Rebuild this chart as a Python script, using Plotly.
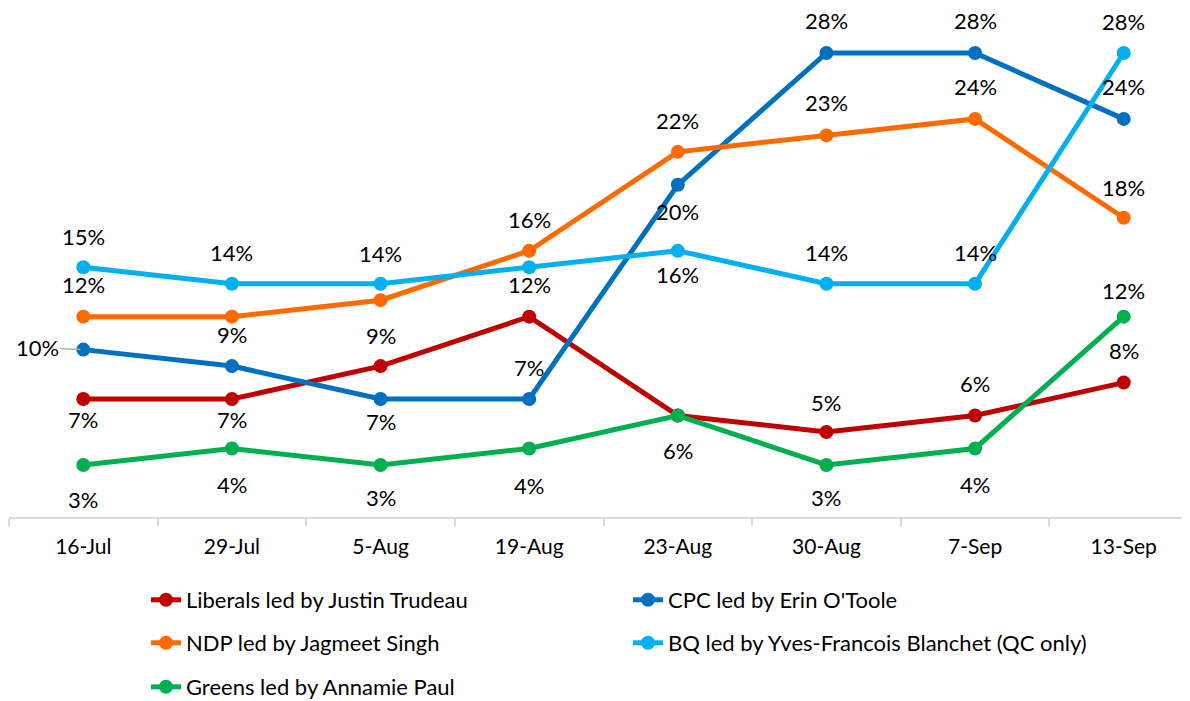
import plotly.graph_objects as go

categories = ["16-Jul", "29-Jul", "5-Aug", "19-Aug", "23-Aug", "30-Aug", "7-Sep", "13-Sep"]

liberals = [7, 7, 9, 12, 6, 5, 6, 8]
cpc = [10, 9, 7, 7, 20, 28, 28, 24]
ndp = [12, 12, 13, 16, 22, 23, 24, 18]
bq = [15, 14, 14, 15, 16, 14, 14, 28]
greens = [3, 4, 3, 4, 6, 3, 4, 12]

# data-label placement (pixel shift of label from its point; None = no label, "L" = left with leader)
liberals_lbl = [-20, -20, 31, 32, -35, 30, 32, 32]
cpc_lbl = ["L", 32, -22, 32, -27, 32, 32, 32]
ndp_lbl = [32, None, None, 31, 31, 33, 32, 30]
bq_lbl = [31, 31, 30, None, -24, 31, 31, 31]
greens_lbl = [-35, -36, -33, -37, None, -33, -36, 26]

names = [
    "Liberals led by Justin Trudeau",
    "CPC led by Erin O'Toole",
    "NDP led by Jagmeet Singh",
    "BQ led by Yves-Francois Blanchet (QC only)",
    "Greens led by Annamie Paul",
]
colors = ["#C00000", "#0070C0", "#FF6A00", "#00B0F0", "#00B050"]
series = [liberals, cpc, ndp, bq, greens]
labels = [liberals_lbl, cpc_lbl, ndp_lbl, bq_lbl, greens_lbl]

FONT = "Lato"
FS = 22
legend_ids = ["legend", "legend2", "legend3", "legend4", "legend5"]

fig = go.Figure()
for name, col, vals, lg in zip(names, colors, series, legend_ids):
    fig.add_trace(go.Scatter(
        x=categories, y=vals, name=name, mode="lines+markers",
        line=dict(color=col, width=5),
        marker=dict(color=col, size=14),
        cliponaxis=False, legend=lg,
    ))

annotations = []
for vals, lbl in zip(series, labels):
    for c, v, p in zip(categories, vals, lbl):
        f = dict(family=FONT, size=FS, color="#000")
        if p is None:
            continue
        if p == "L":
            annotations.append(dict(x=c, y=v, text=f"{v}%", showarrow=True, arrowhead=0,
                                    arrowwidth=1.3, arrowcolor="#A6A6A6", ax=-46, ay=-2,
                                    standoff=3, font=f))
        else:
            annotations.append(dict(x=c, y=v, text=f"{v}%", showarrow=False, yshift=p, font=f))

# legend grid positions (paper coords of plot area)
col_x = [0.1152, 0.5206]
row_y = [-0.163, -0.2475, -0.334]
legend_pos = [(col_x[0], row_y[0]), (col_x[1], row_y[0]),
              (col_x[0], row_y[1]), (col_x[1], row_y[1]),
              (col_x[0], row_y[2])]

layout_legends = {}
for lg, (lx, ly) in zip(legend_ids, legend_pos):
    layout_legends[lg] = dict(x=lx, y=ly, xanchor="left", yanchor="middle",
                              orientation="h", bgcolor="rgba(0,0,0,0)",
                              font=dict(family=FONT, size=FS, color="#000"))

fig.update_layout(
    width=1190, height=701,
    margin=dict(l=1, r=0, t=0, b=192, autoexpand=False),
    paper_bgcolor="white", plot_bgcolor="white",
    font=dict(family=FONT, size=FS, color="#000"),
    annotations=annotations,
    showlegend=True,
    xaxis=dict(type="category", range=[-0.5, 7.5], showgrid=False,
               showline=True, linecolor="#D9D9D9", linewidth=2,
               ticks="outside", tickson="boundaries", ticklen=7, tickcolor="#D9D9D9",
               tickwidth=2, tickfont=dict(family=FONT, size=21, color="#000"),
               ticklabelstandoff=10, automargin=False, zeroline=False),
    yaxis=dict(range=[-0.158, 30.73], visible=False, showgrid=False, zeroline=False,
               automargin=False),
    **layout_legends,
)

fig.write_html("out.html")
